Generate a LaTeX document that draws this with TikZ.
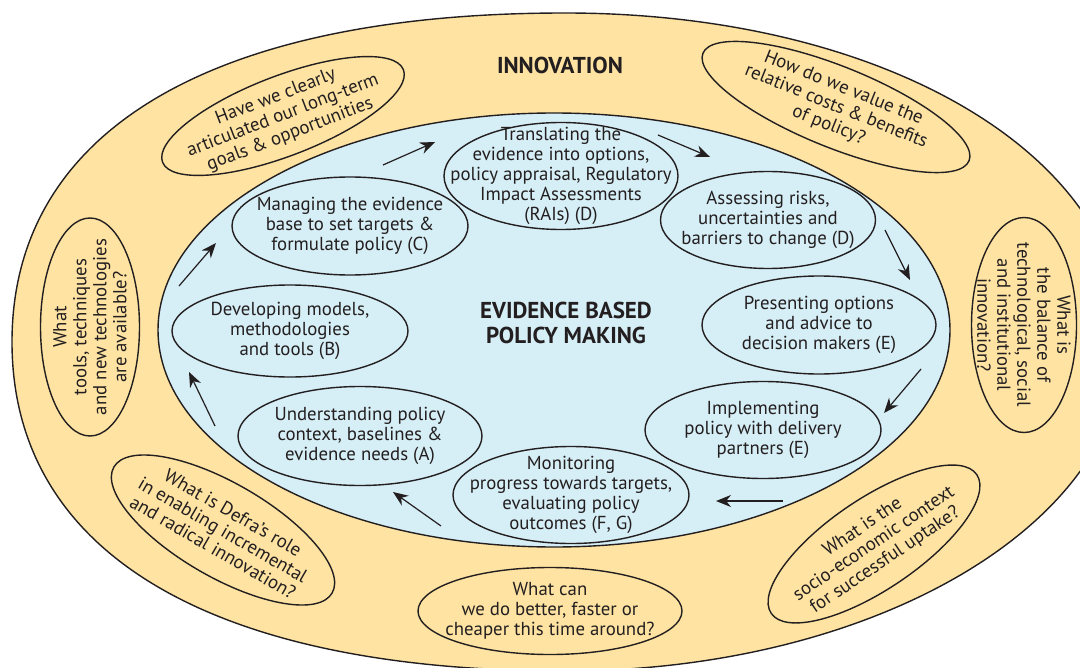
\documentclass[tikz,border=0pt]{standalone}
\usepackage{fontspec}
\setmainfont{PT Sans}
\usetikzlibrary{shapes.geometric,arrows.meta}

\definecolor{innovyellow}{HTML}{FEE3A2}
\definecolor{policyblue}{HTML}{D6EEF5}
\definecolor{ink}{HTML}{231F20}

\tikzset{
  ring/.style={draw=ink, line width=0.7pt, fill=innovyellow},
  stage/.style={ellipse, draw=ink, line width=0.7pt, fill=policyblue, inner sep=0pt},
  question/.style={ellipse, draw=ink, line width=0.7pt, fill=innovyellow, inner sep=0pt},
  words/.style={align=center, text=ink, inner sep=0pt, font=\fontsize{9.4}{10}\selectfont},
  heading/.style={align=center, text=ink, inner sep=0pt, font=\bfseries\fontsize{11.5}{12.5}\selectfont},
  cycle/.style={ink, line width=0.6pt, -{Stealth[length=7.5pt,width=6pt]}}
}

\begin{document}
\begin{tikzpicture}[x=0.5pt,y=-0.5pt]
\useasboundingbox (0,0) rectangle (1080,668);

% outer innovation ring, a little fuller on the left
\draw[ring] (565,13) .. controls (884,13) and (1125,155) .. (1125,342)
  .. controls (1125,524) and (874,671) .. (565,671)
  .. controls (211,671) and (12,553) .. (12,342)
  .. controls (12,131) and (211,13) .. (565,13) -- cycle;
\node[stage, minimum width=396pt, minimum height=217pt] (policy) at (554,330) {};
\node[heading] (innovtitle) at (560,65) {INNOVATION};
\node[heading] (policytitle) at (566,323) {EVIDENCE BASED\\POLICY MAKING};

% policy making cycle
\node[stage, minimum width=117pt, minimum height=53.5pt,
  label={[words]center:{Translating the\\evidence into options,\\policy appraisal, Regulatory\\Impact Assessments\\(RAIs) (D)}}]
  (trans) at (561,176) {};
\node[stage, minimum width=118pt, minimum height=49pt,
  label={[words]center:{Managing the evidence\\base to set targets \&\\formulate policy (C)}}]
  (manage) at (350,226) {};
\node[stage, minimum width=107.5pt, minimum height=48.5pt,
  label={[words]center:{Assessing risks,\\uncertainties and\\barriers to change (D)}}]
  (assess) at (768,220) {};
\node[stage, minimum width=118pt, minimum height=46pt,
  label={[words]center:{Developing models,\\methodologies\\and tools (B)}}]
  (develop) at (290,331) {};
\node[stage, minimum width=117pt, minimum height=49pt,
  label={[words]center:{Presenting options\\and advice to\\decision makers (E)}}]
  (present) at (819,325) {};
\node[stage, minimum width=122pt, minimum height=49.5pt,
  label={[words]center:{Understanding policy\\context, baselines \&\\evidence needs (A)}}]
  (understand) at (360,436) {};
\node[stage, minimum width=118pt, minimum height=48.5pt,
  label={[words]center:{Implementing\\policy with delivery\\partners (E)}}]
  (implement) at (763,430) {};
\node[stage, minimum width=118pt, minimum height=48.5pt,
  label={[words]center:{Monitoring\\progress towards targets,\\evaluating policy\\outcomes (F, G)}}]
  (monitor) at (571,495) {};

% innovation questions
\node[question, rotate=21, minimum width=129pt, minimum height=40pt,
  label={[words,rotate=21]center:{Have we clearly\\articulated our long-term\\goals \& opportunities}}]
  (qgoals) at (283,116) {};
\node[question, rotate=-22, minimum width=143.5pt, minimum height=40.5pt,
  label={[words,rotate=-22]center:{How do we value the\\relative costs \& benefits\\of policy?}}]
  (qcosts) at (836,107) {};
\node[question, rotate=90, minimum width=109pt, minimum height=49.5pt,
  label={[words,rotate=90]center:{What\\tools, techniques\\and new technologies\\are available?}}]
  (qtools) at (90,327) {};
\node[question, rotate=-90, minimum width=107.5pt, minimum height=52.5pt,
  label={[words,rotate=-90]center:{What is\\the balance of\\technological, social\\and institutional\\innovation?}}]
  (qbalance) at (1024,325) {};
\node[question, rotate=-30, minimum width=126pt, minimum height=47pt,
  label={[words,rotate=-30]center:{What is Defra's role\\in enabling incremental\\and radical innovation?}}]
  (qdefra) at (223,530) {};
\node[question, minimum width=132pt, minimum height=43.5pt,
  label={[words]center:{What can\\we do better, faster or\\cheaper this time around?}}]
  (qcheaper) at (550,611) {};
\node[question, rotate=34, minimum width=124pt, minimum height=45.5pt,
  label={[words,rotate=34]center:{What is the\\socio-economic context\\for successful uptake?}}]
  (qcontext) at (874,544) {};

% arrows round the cycle
\coordinate (t1) at (383,165); \coordinate (h1) at (435,142);
\coordinate (t2) at (658,135); \coordinate (h2) at (710,157);
\coordinate (t3) at (885,230); \coordinate (h3) at (910,280);
\coordinate (t4) at (921,369); \coordinate (h4) at (884,413);
\coordinate (t5) at (783,501); \coordinate (h5) at (716,501);
\coordinate (t6) at (441,526); \coordinate (h6) at (393,492);
\coordinate (t7) at (215,426); \coordinate (h7) at (189,372);
\coordinate (t8) at (179,286); \coordinate (h8) at (216,243);
\foreach \i in {1,...,8}
  \draw[cycle] (t\i) -- (h\i);
\end{tikzpicture}
\end{document}
